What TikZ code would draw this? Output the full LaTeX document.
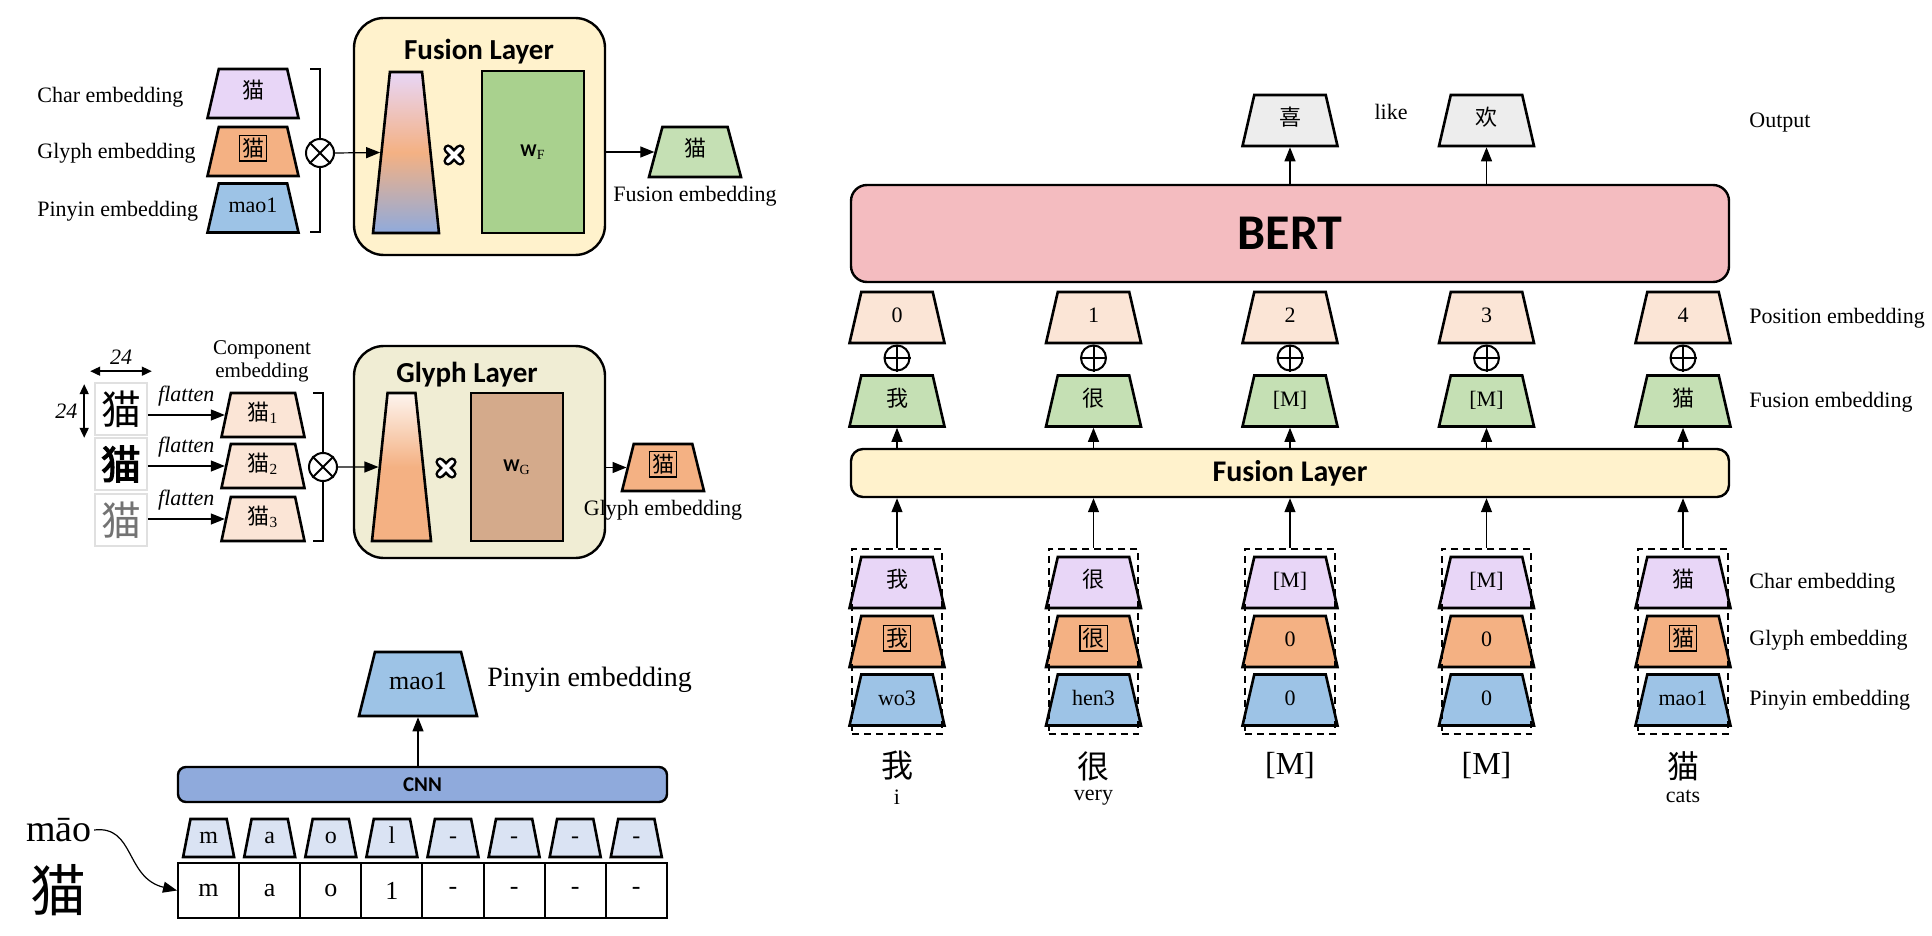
\documentclass[tikz,border=0pt]{standalone}
\usepackage{fontspec}
\setmainfont{Liberation Serif}
\newfontfamily\cjk{Noto Sans CJK SC}
\newfontfamily\cjkbold{Noto Sans CJK SC}[FakeBold=3]
\newfontfamily\hdrfont{Carlito}
\usetikzlibrary{shapes.geometric,arrows.meta,positioning,fit}

\definecolor{charc}{HTML}{E8D6F7}
\definecolor{glyphc}{HTML}{F4B183}
\definecolor{pinyinc}{HTML}{9DC3E6}
\definecolor{fusec}{HTML}{C5E0B4}
\definecolor{posc}{HTML}{FBE5D6}
\definecolor{outc}{HTML}{EDEDED}
\definecolor{bertc}{HTML}{F4BCC0}
\definecolor{fuslayc}{HTML}{FFF2CC}
\definecolor{glylayc}{HTML}{F0EDD4}
\definecolor{wfc}{HTML}{A9D18E}
\definecolor{wgc}{HTML}{D4AA8B}
\definecolor{cnnc}{HTML}{8FAADC}
\definecolor{smallpc}{HTML}{DAE3F3}

\newcommand\lblfont{\fontsize{11}{13}\selectfont}
\newcommand\zh[1]{{\cjk #1}}
\setlength{\fboxsep}{1pt}
\setlength{\fboxrule}{0.7pt}

\tikzset{
  emb/.style={trapezium, trapezium stretches body=true, draw, line width=1.3pt,
    inner xsep=0pt, text height=8pt, text depth=3pt, font=\lblfont, sz={47.5}{7.25}{77}},
  % bottom width, (height-11pt)/2, side angle
  sz/.style n args={3}{minimum width=#1pt, inner ysep=#2pt,
    trapezium left angle=#3, trapezium right angle=#3},
  layer/.style={draw, line width=1.2pt, rounded corners=#1},
  title/.style={font=\hdrfont\bfseries\fontsize{14.5}{16}\selectfont},
  arr/.style={-{Triangle[length=7pt,width=5.5pt]}, line width=0.6pt},
  dbl/.style={{Triangle[length=5pt,width=4.5pt]}-{Triangle[length=5pt,width=4.5pt]}, line width=0.8pt},
  lbl/.style={font=\lblfont, inner sep=1pt},
  opnode/.style={circle, draw, line width=1pt, fill=white, minimum size=#1, inner sep=0pt},
  img/.style={draw=black!12, line width=0.8pt, minimum size=26pt, inner sep=0pt,
    font=\fontsize{20}{20}\selectfont},
  mulx/.pic={
    \draw[line width=4.6pt, line cap=round] (-6,-6) -- (6,6) (-6,6) -- (6,-6);
    \draw[line width=2pt, white, line cap=round] (-6,-6) -- (6,6) (-6,6) -- (6,-6);
  }
}

\begin{document}
\begin{tikzpicture}[x=0.5pt, y=-0.5pt]
\useasboundingbox (0,0) rectangle (1932,936);

% fusion layer (top left)
\node[layer=15pt, fill=fuslayc, minimum width=125.5pt, minimum height=118.5pt] (fbox) at (479.5,136.5) {};
\node[title] (ftitle) at (479,52) {Fusion Layer};
\node[emb, sz={33}{34.75}{84}, top color=charc, bottom color=cnnc, middle color=glyphc] (fgrad) at (406,152.5) {};
\node[draw, line width=1.2pt, fill=wfc, minimum width=51pt, minimum height=81pt] (wf) at (533,152)
  {{\hdrfont\bfseries\fontsize{9}{10}\selectfont W}\textsubscript{F}};
\pic at (454,155) {mulx};

\node[emb, sz={45.5}{6.75}{77}, fill=charc] (fch) at (253,93.5) {\zh{猫}};
\node[emb, sz={45.5}{6.75}{77}, fill=glyphc] (fgl) at (253,151.5) {\fbox{\zh{猫}}};
\node[emb, sz={45.5}{6.75}{77}, fill=pinyinc] (fpy) at (253,208) {mao1};
\node[lbl, anchor=west] (lch) at (35,97) {Char embedding};
\node[lbl, anchor=west] (lgl) at (35,153) {Glyph embedding};
\node[lbl, anchor=west] (lpy) at (35,211) {Pinyin embedding};

\draw[line width=1pt] (310,69) -- (320,69) -- (320,232) -- (310,232);
\node[opnode=14pt] (fop) at (320,153) {};
\draw[line width=1pt] (fop.north west) -- (fop.south east) (fop.north east) -- (fop.south west);
\draw[arr] (fop.east) -- (fgrad.west);

\node[emb, sz={46}{7}{75}, fill=fusec] (fout) at (695,152) {\zh{猫}};
\draw[arr] (fbox.east |- fout.west) -- (fout.west);
\node[lbl, below=3pt of fout] (lfout) {Fusion embedding};

% glyph layer (middle left)
\node[layer=15pt, fill=glylayc, minimum width=125.5pt, minimum height=106pt] (gbox) at (479.5,452) {};
\node[title] (gtitle) at (467,375) {Glyph Layer};
\node[emb, sz={29.5}{31.5}{84}, top color=posc!40!white, bottom color=glyphc, middle color=glyphc] (ggrad) at (401.5,467) {};
\node[draw, line width=1.2pt, fill=wgc, minimum width=46pt, minimum height=74pt] (wg) at (517,467)
  {{\hdrfont\bfseries\fontsize{9}{10}\selectfont W}\textsubscript{G}};
\pic at (446,468) {mulx};

\node[img] (img1) at (121,409) {\cjk 猫};
\node[img] (img2) at (121,464) {\cjkbold 猫};
\node[img, text=black!55] (img3) at (121,520) {\cjk 猫};
\draw[dbl] ([shift={(-2pt,5.5pt)}]img1.north west) -- ([shift={(2pt,5.5pt)}]img1.north east)
  node[midway, above=3pt, font=\itshape\lblfont, inner sep=0pt] (wd) {24};
\draw[dbl] ([shift={(-5pt,-1pt)}]img1.north west) -- ([shift={(-5pt,-1pt)}]img1.south west)
  node[midway, left=3pt, font=\itshape\lblfont, inner sep=0pt] (ht) {24};

\foreach \i/\y in {1/415,2/466,3/519} {
  \node[emb, sz={41.5}{5.5}{78}, fill=posc] (comp\i) at (263,\y) {\zh{猫}\textsubscript{\i}};
  \draw[arr] (img\i.east |- comp\i.west) -- (comp\i.west)
    node[midway, above=1pt, font=\itshape\lblfont] (fl\i) {flatten};
}
\node[lbl, align=center, font=\fontsize{10.5}{11.5}\selectfont] (lcomp) at (262,361) {Component\\embedding};

\draw[line width=1pt] (313,393) -- (323,393) -- (323,541) -- (313,541);
\node[opnode=14pt] (gop) at (323,467) {};
\draw[line width=1pt] (gop.north west) -- (gop.south east) (gop.north east) -- (gop.south west);
\draw[arr] (gop.east) -- (ggrad.west);

\node[emb, sz={41}{6.25}{76}, fill=glyphc] (gout) at (663,467.5) {\fbox{\zh{猫}}};
\draw[arr] (gbox.east |- gout.west) -- (gout.west);
\node[lbl, below=3pt of gout] (lgout) {Glyph embedding};

% pinyin CNN (bottom left)
\node[emb, sz={59}{10.5}{76}, fill=pinyinc, font=\fontsize{13}{15}\selectfont] (pmao) at (418,684) {mao1};
\node[lbl, anchor=west, font=\fontsize{14}{16}\selectfont] (lpmao) at (485,680) {Pinyin embedding};
\node[layer=4pt, fill=cnnc, minimum width=244.5pt, minimum height=17.5pt,
  font=\hdrfont\bfseries\fontsize{10.5}{12}\selectfont] (cnn) at (422.5,784.5) {CNN};
\draw[arr] (pmao.south |- cnn.north) -- (pmao.south);

\foreach \c [count=\i from 0] in {m,a,o,l,-,-,-,-} {
  \node[emb, sz={25.5}{4}{79}, fill=smallpc, font=\fontsize{12}{14}\selectfont] (sp\i) at ({208.6+61.1*\i},838) {\c};
}
\foreach \c [count=\i from 0] in {m,a,o,1,-,-,-,-} {
  \node[draw, line width=1pt, minimum width=30.55pt, minimum height=27.5pt,
    font=\fontsize{13}{15}\selectfont] (cell\i) at ({208.6+61.1*\i},890.5) {\c};
}
\node[font=\fontsize{19}{21}\selectfont, inner sep=1pt] (mao) at (59,830) {māo};
\node[font=\fontsize{28}{30}\selectfont\cjk] (bigcat) at (59,890) {猫};
\draw[arr] (mao.east) .. controls (135,825) and (125,878) .. (cell0.west);

% BERT with fusion (right)
\node[layer=8pt, fill=bertc, minimum width=439pt, minimum height=48.5pt,
  font=\hdrfont\bfseries\fontsize{25}{28}\selectfont] (bert) at (1290,233.5) {BERT};
\node[layer=6pt, fill=fuslayc, minimum width=439pt, minimum height=24pt,
  font=\hdrfont\bfseries\fontsize{15}{17}\selectfont] (flay) at (1290,473) {Fusion Layer};

\foreach \x/\c/\n in {1290/喜/o1, 1486.5/欢/o2} {
  \node[emb, fill=outc] (\n) at (\x,120.5) {\zh{\c}};
  \draw[arr] (\n.south |- bert.north) -- (\n.south);
}
\node[lbl] (like) at (1391,112) {like};

\foreach \x/\fe/\ch/\gl/\py/\bt/\en [count=\i from 0] in {
  897/\zh{我}/\zh{我}/\fbox{\zh{我}}/wo3/\zh{我}/i,
  1093.5/\zh{很}/\zh{很}/\fbox{\zh{很}}/hen3/\zh{很}/very,
  1290/{[M]}/{[M]}/0/0/{[M]}/{},
  1486.5/{[M]}/{[M]}/0/0/{[M]}/{},
  1683/\zh{猫}/\zh{猫}/\fbox{\zh{猫}}/mao1/\zh{猫}/cats} {
  \node[emb, fill=posc] (pos\i) at (\x,317.5) {\i};
  \node[opnode=12.5pt] (plus\i) at (\x,358) {};
  \draw[line width=1pt] (plus\i.north) -- (plus\i.south) (plus\i.west) -- (plus\i.east);
  \node[emb, fill=fusec] (fe\i) at (\x,401) {\fe};
  \draw[arr] (fe\i.south |- flay.north) -- (fe\i.south);
  \node[emb, fill=charc] (ch\i) at (\x,582.5) {\ch};
  \node[emb, fill=glyphc] (gl\i) at (\x,641.5) {\gl};
  \node[emb, fill=pinyinc] (py\i) at (\x,700) {\py};
  \node[draw, line width=1pt, dash pattern=on 3.5pt off 2.5pt, fit=(ch\i)(py\i),
    inner xsep=1pt, inner ysep=3.5pt] (grp\i) {};
  \draw[arr] (grp\i.north) -- (grp\i.north |- flay.south);
  \node[font=\fontsize{16}{18}\selectfont] (tok\i) at (\x,766) {\bt};
  \node[lbl, below=0pt of tok\i] (en\i) {\en};
}

\foreach \y/\t in {123/Output, 318/Position embedding, 402/Fusion embedding,
  583/Char embedding, 640/Glyph embedding, 700/Pinyin embedding}
  \node[lbl, anchor=west] (lab\y) at (1747,\y) {\t};
\end{tikzpicture}
\end{document}
